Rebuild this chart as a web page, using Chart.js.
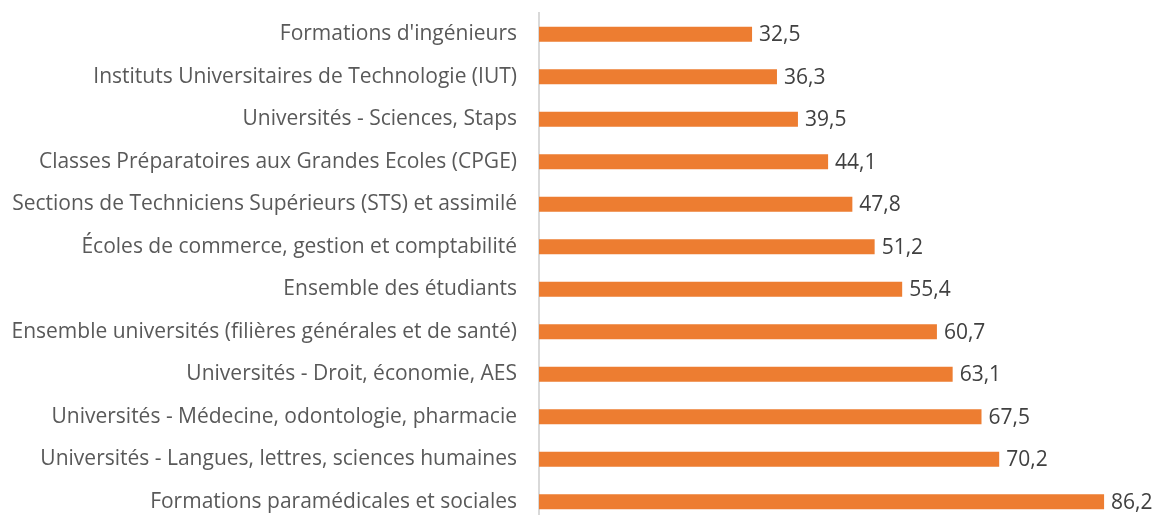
<!DOCTYPE html>
<html>
<head>
<meta charset="utf-8">
<script src="https://cdn.jsdelivr.net/npm/chart.js@4.4.0/dist/chart.umd.min.js"></script>
<style>
  html, body { margin: 0; padding: 0; background: #fff; overflow: hidden; }
  #wrap { position: relative; width: 1157px; height: 523px; }
</style>
</head>
<body>
<div id="wrap"><canvas id="bar-chart"></canvas></div>
<script>
var categories = [
  "Formations d'ingénieurs",
  "Instituts Universitaires de Technologie (IUT)",
  "Universités - Sciences, Staps",
  "Classes Préparatoires aux Grandes Ecoles (CPGE)",
  "Sections de Techniciens Supérieurs (STS) et assimilé",
  "Écoles de commerce, gestion et comptabilité",
  "Ensemble des étudiants",
  "Ensemble universités (filières générales et de santé)",
  "Universités - Droit, économie, AES",
  "Universités - Médecine, odontologie, pharmacie",
  "Universités - Langues, lettres, sciences humaines",
  "Formations paramédicales et sociales"
];
var values = [32.5, 36.3, 39.5, 44.1, 47.8, 51.2, 55.4, 60.7, 63.1, 67.5, 70.2, 86.2];

// value labels after each bar, french decimal comma
var valueLabels = {
  id: "valueLabels",
  afterDatasetsDraw: function(chart) {
    var ctx = chart.ctx;
    var meta = chart.getDatasetMeta(0);
    ctx.save();
    ctx.font = "21px 'Open Sans'";
    ctx.fillStyle = "#404040";
    ctx.textAlign = "left";
    ctx.textBaseline = "middle";
    meta.data.forEach(function(bar, i) {
      var txt = values[i].toFixed(1).replace(".", ",");
      ctx.fillText(txt, bar.x + 7, bar.y + 1);
    });
    ctx.restore();
  }
};

var ctx1 = document.getElementById("bar-chart");
var chart1 = new Chart(ctx1, {
  type: "bar",
  data: {
    labels: categories,
    datasets: [{
      data: values,
      backgroundColor: "#ED7D31",
      borderWidth: 0,
      barPercentage: 0.7,
      categoryPercentage: 0.5
    }]
  },
  options: {
    indexAxis: "y",
    responsive: true,
    maintainAspectRatio: false,
    animation: false,
    layout: { padding: { top: 13, bottom: 0, left: 0, right: 28 } },
    plugins: {
      legend: { display: false },
      tooltip: { enabled: false },
      title: { display: false }
    },
    scales: {
      x: {
        display: false,
        min: 0,
        max: 90
      },
      y: {
        afterFit: function(s) {
          s.width = 539;
          s.paddingTop = 0;
          s.paddingBottom = 0;
        },
        grid: { display: false, drawTicks: false, tickLength: 0 },
        border: { display: true, color: "#d9d9d9", width: 2 },
        ticks: {
          padding: 22,
          color: "#595959",
          font: { family: "Open Sans", size: 21 }
        }
      }
    }
  },
  plugins: [valueLabels]
});
</script>
</body>
</html>
